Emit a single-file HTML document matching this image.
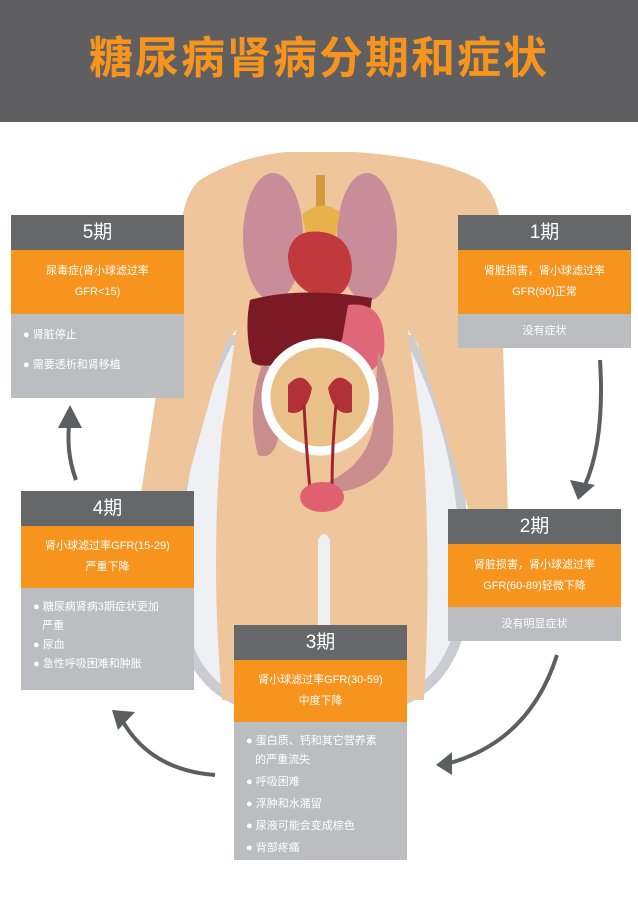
<!DOCTYPE html>
<html><head><meta charset="utf-8"><style>
body{margin:0;width:638px;height:898px;background:#fff;position:relative;overflow:hidden;font-family:"Liberation Sans","Noto Sans CJK SC",sans-serif}
.hd{position:absolute;left:0;top:0;width:638px;height:122px;background:#5f5f61}
.hd div{position:absolute;top:22px;width:638px;text-align:center;color:#f7941d;font-size:44px;font-weight:bold;letter-spacing:2px}
.box{position:absolute;width:173px;color:#fff;text-align:center}
.box .t{background:#666769;height:35px;line-height:36px;font-size:19px}
.box .o{background:#f7941d;font-size:11px;line-height:21px;display:flex;flex-direction:column;justify-content:center}
.box .g{background:#bcbdc0;font-size:11px;text-align:left;padding:6px 0 0 12px;box-sizing:border-box}
.box .g p{margin:0;line-height:19px}
.box .g.c{text-align:center;padding:0;line-height:34px}
svg{position:absolute;left:0;top:0}
</style></head><body>
<div class="hd"><div>糖尿病肾病分期和症状</div></div>
<svg width="638" height="898">
<path d="M228 335 Q165 450 172 600 Q180 680 235 705 L405 705 Q462 680 470 600 Q475 450 412 335 Z" fill="#c9ccd0"/>
<path d="M232 345 Q176 455 182 600 Q190 672 238 695 L402 695 Q452 672 460 600 Q465 455 408 345 Z" fill="#eef0f3"/>
<path d="M285 152 L355 152 Q440 158 480 180 Q503 200 500 240 L508 515 L470 515 L418 345 L408 330 Q415 380 422 430 Q432 560 424 700 L330 700 L330 540 Q324 528 318 540 L318 700 L222 700 Q210 560 222 430 Q230 380 236 330 L225 345 L182 500 L140 500 L180 240 Q182 195 200 180 Q235 158 285 152Z" fill="#efc59c"/>
<ellipse cx="273" cy="237" rx="30" ry="64" fill="#c98d9a"/>
<ellipse cx="367" cy="237" rx="30" ry="64" fill="#c98d9a"/>
<rect x="316" y="175" width="9" height="40" fill="#d39a3b"/>
<path d="M302 215 Q320 198 340 212 L336 235 L306 235Z" fill="#e8b14a"/>
<path d="M288 255 Q292 228 322 232 Q352 236 352 270 Q348 300 322 298 Q288 288 288 255Z" fill="#c1393c"/>
<path d="M250 300 Q300 286 372 298 L366 342 Q330 350 300 356 Q265 372 252 362 Q244 330 250 300Z" fill="#7b1a24"/>
<path d="M348 305 Q388 300 384 352 Q376 380 346 372 Q322 360 342 340Z" fill="#e0667a"/>
<path d="M262 365 Q246 410 258 455 Q275 462 280 430 L280 370Z" fill="#c98d8d"/>
<path d="M378 350 Q398 400 392 455 Q380 485 340 492 L320 505 L322 485 Q370 465 374 420Z" fill="#c98d8d"/>
<circle cx="320" cy="397" r="54" fill="#e8c088" stroke="#fff" stroke-width="9"/>
<path d="M288 385 q14-16 24 3 q-6 30-24 24z M352 385 q-14-16-24 3 q6 30 24 24z" fill="#b1303a"/>
<path d="M304 405 Q306 445 310 490 M336 405 Q332 445 332 490" stroke="#9e2530" stroke-width="3" fill="none"/>
<ellipse cx="322" cy="497" rx="22" ry="15" fill="#e06070"/>
<g fill="none" stroke="#5d5e60" stroke-width="4">
<path d="M600 360 Q605 440 585 485"/>
<path d="M557 655 Q530 740 450 763"/>
<path d="M215 775 Q150 770 122 720"/>
<path d="M76 480 Q65 450 70 418"/>
</g>
<g fill="#5d5e60">
<polygon points="570,480 595,485 578,500"/>
<polygon points="452,752 452,775 436,765"/>
<polygon points="112,710 135,712 118,730"/>
<polygon points="58,428 82,428 70,405"/>
</g>
</svg>
<div class="box" style="left:11px;top:215px"><div class="t">5期</div><div class="o" style="height:64px">尿毒症(肾小球滤过率<br>GFR&lt;15)</div><div class="g" style="height:84px;padding-top:6px"><p style="line-height:30px">● 肾脏停止</p><p style="line-height:30px">● 需要透析和肾移植</p></div></div>
<div class="box" style="left:458px;top:215px"><div class="t">1期</div><div class="o" style="height:64px">肾脏损害，肾小球滤过率<br>GFR(90)正常</div><div class="g c" style="height:34px">没有症状</div></div>
<div class="box" style="left:21px;top:491px"><div class="t">4期</div><div class="o" style="height:62px">肾小球滤过率GFR(15-29)<br>严重下降</div><div class="g" style="height:102px;padding-top:10px"><p>● 糖尿病肾病3期症状更加<br>&nbsp;&nbsp;&nbsp;严重</p><p>● 尿血</p><p>● 急性呼吸困难和肿胀</p></div></div>
<div class="box" style="left:448px;top:509px"><div class="t">2期</div><div class="o" style="height:63px">肾脏损害，肾小球滤过率<br>GFR(60-89)轻微下降</div><div class="g c" style="height:34px">没有明显症状</div></div>
<div class="box" style="left:234px;top:625px"><div class="t">3期</div><div class="o" style="height:62px">肾小球滤过率GFR(30-59)<br>中度下降</div><div class="g" style="height:138px;padding-top:10px"><p>● 蛋白质、钙和其它营养素<br>&nbsp;&nbsp;&nbsp;的严重流失</p><p style="margin-top:3px">● 呼吸困难</p><p style="margin-top:3px">● 浮肿和水潴留</p><p style="margin-top:3px">● 尿液可能会变成棕色</p><p style="margin-top:3px">● 背部疼痛</p></div></div>
</body></html>
